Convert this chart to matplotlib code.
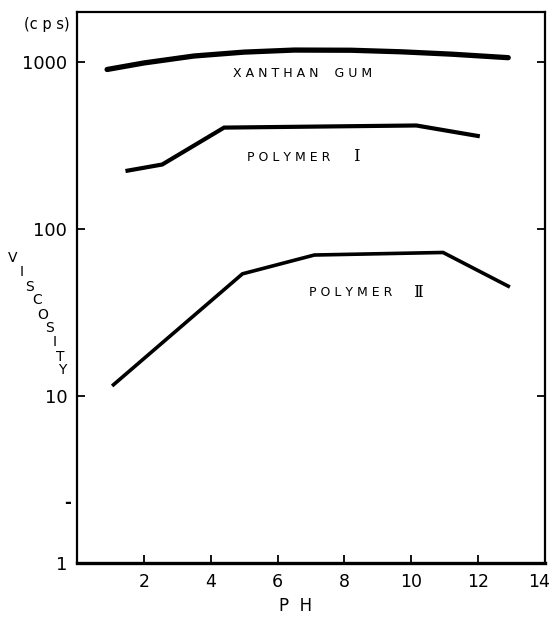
import numpy as np
import matplotlib
matplotlib.use("Agg")
import matplotlib.pyplot as plt

# Viscosity (cps) versus pH for three thickeners
xanthan_ph = [0.9, 2.0, 3.5, 5.0, 6.5, 8.2, 9.7, 11.2, 12.9]
xanthan_visc = [905, 990, 1090, 1150, 1183, 1180, 1155, 1118, 1065]

poly1_ph = [1.45, 2.55, 4.4, 10.15, 12.05]
poly1_visc = [223, 244, 406, 418, 360]

poly2_ph = [1.05, 4.95, 7.1, 10.95, 12.95]
poly2_visc = [11.5, 54, 70, 72.5, 45]

x_ticks = [2, 4, 6, 8, 10, 12, 14]
y_ticks = [1, 10, 100, 1000]
y_tick_labels = ["1", "10", "100", "1000"]

W, H = 552, 623
fig = plt.figure(figsize=(W / 100, H / 100), dpi=100)
ax = fig.add_axes([77 / W, 1 - 563 / H, (545 - 77) / W, (563 - 12) / H])

ax.set_yscale("log")
ax.set_xlim(0, 14)
ax.set_ylim(1, 2000)

ax.plot(xanthan_ph, xanthan_visc, color="black", lw=3.8, solid_capstyle="round",
        solid_joinstyle="round")
ax.plot(poly1_ph, poly1_visc, color="black", lw=3.0, solid_capstyle="butt",
        solid_joinstyle="miter")
ax.plot(poly2_ph, poly2_visc, color="black", lw=2.6, solid_capstyle="butt",
        solid_joinstyle="miter")

# axes frame and ticks
for side, s in ax.spines.items():
    s.set_linewidth(1.6)
ax.spines["bottom"].set_linewidth(2.4)

ax.set_xticks(x_ticks)
ax.set_xticklabels([str(t) for t in x_ticks], fontsize=12.5)
ax.set_yticks(y_ticks)
ax.set_yticklabels(y_tick_labels, fontsize=13)
ax.yaxis.set_minor_locator(matplotlib.ticker.NullLocator())
ax.tick_params(axis="both", direction="in", length=6, width=1.3, pad=7)
ax.tick_params(axis="y", right=True, labelright=False)
ax.tick_params(axis="x", top=False)

# pull the last pH label inside the figure edge
last = ax.get_xticklabels()[-1]
last.set_transform(last.get_transform() +
                   matplotlib.transforms.ScaledTranslation(-6 / 100, 0, fig.dpi_scale_trans))

# stray dash on the viscosity axis
ax.annotate("-", xy=(0, 2.3), xytext=(-4, 0), textcoords="offset points",
            ha="right", va="center", fontsize=12, fontweight="bold")

# curve labels
lab_kw = dict(fontsize=9, color="black", ha="center", va="center")
ax.text(6.75, 860, "X A N T H A N    G U M", **lab_kw)
ax.text(6.34, 270, "P O L Y M E R", **lab_kw)
ax.text(8.35, 272, "Ⅰ", fontsize=12, family="DejaVu Serif", ha="center", va="center")
ax.text(8.2, 41.5, "P O L Y M E R", **lab_kw)
ax.text(10.2, 42, "Ⅱ", fontsize=12, family="DejaVu Serif", ha="center", va="center")

# unit and axis titles
fig.text(47 / W, 1 - 25 / H, "(c p s)", fontsize=10.5, ha="center", va="center")
fig.text(296 / W, 1 - 606 / H, "P  H", fontsize=12, ha="center", va="center")

visc_letters = list("VISCOSITY")
visc_px = [13, 22, 29, 37, 43, 50, 55, 60, 62]
visc_py = [258, 272, 287, 300, 315, 328, 342, 357, 370]
for ch, px, py in zip(visc_letters, visc_px, visc_py):
    fig.text(px / W, 1 - py / H, ch, fontsize=10, ha="center", va="center")

fig.savefig("out.png", dpi=100)
